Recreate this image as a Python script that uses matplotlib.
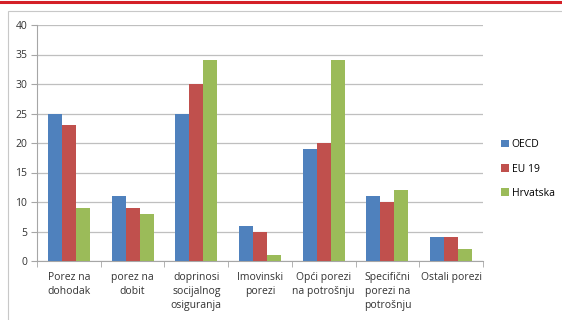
import matplotlib
matplotlib.use("Agg")
import matplotlib.pyplot as plt
import numpy as np
from matplotlib.patches import Rectangle
from matplotlib.lines import Line2D

categories = ["Porez na\ndohodak", "porez na\ndobit", "doprinosi\nsocijalnog\nosiguranja",
              "Imovinski\nporezi", "Opći porezi\nna potrošnju", "Specifični\nporezi na\npotrošnju",
              "Ostali porezi"]
series_names = ["OECD", "EU 19", "Hrvatska"]
oecd = [25, 11, 25, 6, 19, 11, 4]
eu19 = [23, 9, 30, 5, 20, 10, 4]
hrv = [9, 8, 34, 1, 34, 12, 2]
colors = ["#4F81BD", "#C0504D", "#9BBB59"]

plt.rcParams['font.family'] = ['Open Sans', 'DejaVu Sans']

W, H = 562, 320
fig = plt.figure(figsize=(W/100, H/100), dpi=100)

# top red line and chart frame
fig.add_artist(Line2D([0, 1], [1 - 1.5/H, 1 - 1.5/H], color="#D42027", lw=2.2, transform=fig.transFigure))
fig.add_artist(Rectangle((8/W, -0.05), 1.2, (H - 11)/H + 0.05, transform=fig.transFigure,
                         fill=False, edgecolor="#C8C8C8", lw=0.8))

ax = fig.add_axes([37/W, (H - 261)/H, (483 - 37)/W, (261 - 25)/H])
x = np.arange(len(categories))
bw = 0.22
for i, (vals, name) in enumerate(zip([oecd, eu19, hrv], series_names)):
    ax.bar(x + (i - 1) * bw, vals, width=bw, color=colors[i], label=name, zorder=3)

ax.set_xlim(-0.5, len(categories) - 0.5)
ax.set_ylim(0, 40)
ax.set_yticks(range(0, 41, 5))
ax.yaxis.grid(True, color="#BFBFBF", lw=0.9, zorder=0)
ax.set_axisbelow(True)
for s in ["top", "right"]:
    ax.spines[s].set_visible(False)
for s in ["left", "bottom"]:
    ax.spines[s].set_color("#A6A6A6")
    ax.spines[s].set_linewidth(0.8)

ax.set_xticks(x)
ax.set_xticklabels(categories, fontsize=7.5, color="#333333", linespacing=1.35)
ax.tick_params(axis="x", length=0, pad=8)
ax.set_xticks(np.arange(-0.5, len(categories), 1), minor=True)
ax.tick_params(axis="x", which="minor", length=4, color="#A6A6A6")
ax.tick_params(axis="y", length=4, color="#A6A6A6", labelsize=7.5, labelcolor="#333333", pad=3)

ax.legend(loc="center left", bbox_to_anchor=(492/W, 1 - 169/H), bbox_transform=fig.transFigure,
          frameon=False, fontsize=7.5, handlelength=0.7, handleheight=0.7, labelspacing=1.25,
          handletextpad=0.3)

fig.savefig("out.png", dpi=100)
